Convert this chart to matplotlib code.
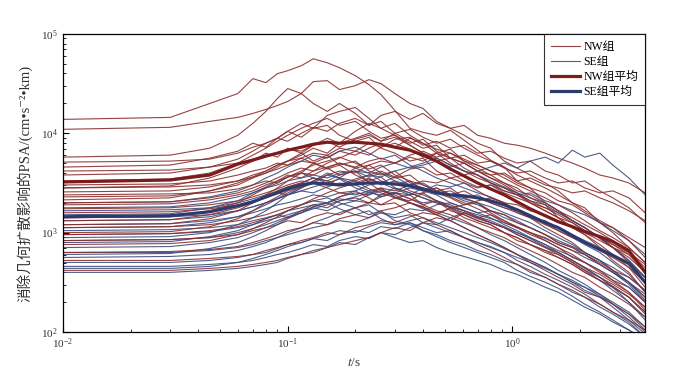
import matplotlib
matplotlib.use("Agg")
import matplotlib.pyplot as plt
import numpy as np

# periods (s) shared by every curve
T = [0.01, 0.03, 0.045, 0.06, 0.07, 0.08, 0.09, 0.10, 0.115, 0.13, 0.15, 0.17,
     0.20, 0.23, 0.26, 0.30, 0.35, 0.40, 0.46, 0.53, 0.61, 0.70, 0.80, 0.92,
     1.05, 1.2, 1.4, 1.6, 1.85, 2.1, 2.45, 2.8, 3.3, 3.9]

# log10 PSA, NW group
NW = [
    [4.14, 4.16, 4.30, 4.40, 4.55, 4.51, 4.60, 4.63, 4.68, 4.75, 4.71, 4.66, 4.58, 4.49, 4.39, 4.23, 4.05,
     4.01, 3.98, 4.03, 3.93, 3.83, 3.73, 3.66, 3.52, 3.45, 3.30, 3.22, 3.12, 3.05, 2.94, 2.85, 2.70, 2.55],
    [4.04, 4.06, 4.12, 4.16, 4.20, 4.24, 4.28, 4.32, 4.40, 4.52, 4.53, 4.44, 4.48, 4.54, 4.50, 4.40, 4.30,
     4.25, 4.12, 4.05, 3.98, 3.90, 3.85, 3.72, 3.65, 3.58, 3.50, 3.42, 3.30, 3.25, 3.10, 3.00, 2.85, 2.70],
    [3.76, 3.78, 3.85, 3.98, 4.10, 4.22, 4.35, 4.45, 4.40, 4.30, 4.22, 4.30, 4.20, 4.08, 4.12, 4.00, 3.92,
     3.85, 3.88, 3.75, 3.70, 3.62, 3.55, 3.48, 3.40, 3.32, 3.28, 3.15, 3.05, 2.98, 2.85, 2.72, 2.60, 2.40],
    [3.71, 3.72, 3.74, 3.80, 3.86, 3.90, 3.95, 3.92, 4.00, 4.06, 4.02, 4.10, 4.15, 4.08, 4.18, 4.22, 4.14,
     4.20, 4.10, 4.05, 4.08, 3.98, 3.95, 3.90, 3.88, 3.85, 3.80, 3.75, 3.70, 3.65, 3.58, 3.55, 3.50, 3.40],
    [3.66, 3.68, 3.75, 3.82, 3.90, 3.86, 3.95, 4.02, 3.96, 4.05, 4.08, 3.98, 3.92, 3.96, 3.85, 3.80, 3.72,
     3.75, 3.62, 3.55, 3.50, 3.42, 3.35, 3.30, 3.20, 3.15, 3.05, 2.98, 2.90, 2.80, 2.72, 2.62, 2.50, 2.35],
    [3.58, 3.60, 3.66, 3.74, 3.82, 3.90, 3.95, 4.02, 4.10, 4.05, 4.18, 4.22, 4.26, 4.15, 4.05, 4.10, 3.98,
     3.90, 3.80, 3.84, 3.72, 3.65, 3.58, 3.50, 3.45, 3.35, 3.30, 3.22, 3.12, 3.05, 2.95, 2.85, 2.78, 2.60],
    [3.48, 3.49, 3.52, 3.58, 3.62, 3.65, 3.70, 3.68, 3.75, 3.80, 3.78, 3.85, 3.82, 3.90, 3.86, 3.94, 3.96,
     3.88, 3.92, 3.85, 3.88, 3.80, 3.82, 3.75, 3.70, 3.72, 3.62, 3.58, 3.50, 3.52, 3.42, 3.35, 3.25, 3.10],
    [3.45, 3.47, 3.55, 3.65, 3.72, 3.80, 3.76, 3.85, 3.80, 3.72, 3.78, 3.68, 3.72, 3.62, 3.58, 3.62, 3.50,
     3.45, 3.40, 3.35, 3.28, 3.30, 3.20, 3.12, 3.05, 2.98, 2.92, 2.85, 2.75, 2.70, 2.60, 2.52, 2.45, 2.30],
    [3.41, 3.42, 3.46, 3.52, 3.58, 3.62, 3.68, 3.72, 3.78, 3.85, 3.80, 3.90, 3.95, 4.00, 3.92, 3.96, 3.88,
     3.80, 3.75, 3.68, 3.62, 3.55, 3.50, 3.45, 3.38, 3.32, 3.25, 3.20, 3.12, 3.05, 2.95, 2.88, 2.78, 2.62],
    [3.38, 3.39, 3.40, 3.44, 3.48, 3.52, 3.50, 3.56, 3.60, 3.58, 3.65, 3.70, 3.66, 3.72, 3.75, 3.70, 3.78,
     3.82, 3.76, 3.80, 3.72, 3.68, 3.62, 3.58, 3.50, 3.45, 3.40, 3.32, 3.28, 3.20, 3.10, 3.05, 2.95, 2.85],
    [3.33, 3.35, 3.42, 3.50, 3.56, 3.62, 3.68, 3.72, 3.75, 3.70, 3.64, 3.68, 3.58, 3.52, 3.56, 3.45, 3.40,
     3.35, 3.30, 3.25, 3.18, 3.12, 3.08, 3.00, 2.95, 2.88, 2.82, 2.75, 2.68, 2.60, 2.52, 2.45, 2.35, 2.20],
    [3.30, 3.31, 3.35, 3.40, 3.45, 3.50, 3.55, 3.60, 3.65, 3.62, 3.70, 3.75, 3.82, 3.78, 3.86, 3.90, 3.84,
     3.76, 3.80, 3.70, 3.62, 3.58, 3.50, 3.45, 3.40, 3.30, 3.25, 3.18, 3.10, 3.02, 2.95, 2.85, 2.72, 2.55],
    [3.28, 3.29, 3.33, 3.38, 3.42, 3.48, 3.52, 3.58, 3.55, 3.62, 3.66, 3.70, 3.65, 3.68, 3.60, 3.55, 3.58,
     3.48, 3.42, 3.45, 3.35, 3.30, 3.22, 3.18, 3.10, 3.05, 2.98, 2.90, 2.85, 2.78, 2.68, 2.60, 2.50, 2.35],
    [3.20, 3.21, 3.24, 3.28, 3.32, 3.35, 3.40, 3.38, 3.45, 3.50, 3.48, 3.55, 3.52, 3.58, 3.62, 3.56, 3.64,
     3.66, 3.58, 3.60, 3.52, 3.46, 3.48, 3.40, 3.35, 3.30, 3.22, 3.15, 3.10, 3.02, 2.95, 2.88, 2.80, 2.68],
    [3.12, 3.13, 3.18, 3.25, 3.30, 3.36, 3.42, 3.46, 3.50, 3.55, 3.52, 3.48, 3.52, 3.44, 3.40, 3.35, 3.38,
     3.28, 3.22, 3.18, 3.12, 3.05, 3.00, 2.95, 2.88, 2.82, 2.75, 2.68, 2.60, 2.55, 2.45, 2.38, 2.28, 2.15],
    [3.05, 3.06, 3.08, 3.12, 3.15, 3.18, 3.22, 3.25, 3.28, 3.32, 3.30, 3.36, 3.40, 3.38, 3.45, 3.42, 3.48,
     3.52, 3.50, 3.55, 3.58, 3.62, 3.58, 3.60, 3.52, 3.55, 3.48, 3.45, 3.40, 3.42, 3.35, 3.30, 3.22, 3.12],
    [2.98, 2.99, 3.02, 3.06, 3.10, 3.14, 3.18, 3.15, 3.22, 3.28, 3.25, 3.32, 3.35, 3.30, 3.38, 3.40, 3.34,
     3.28, 3.32, 3.22, 3.18, 3.12, 3.08, 3.00, 2.95, 2.88, 2.82, 2.78, 2.70, 2.62, 2.55, 2.48, 2.38, 2.25],
    [2.92, 2.93, 2.95, 2.98, 3.02, 3.05, 3.08, 3.12, 3.10, 3.16, 3.20, 3.18, 3.25, 3.30, 3.28, 3.35, 3.32,
     3.40, 3.45, 3.38, 3.42, 3.35, 3.30, 3.25, 3.20, 3.15, 3.08, 3.02, 2.95, 2.90, 2.82, 2.75, 2.65, 2.50],
    [2.80, 2.81, 2.83, 2.86, 2.90, 2.94, 2.98, 3.02, 3.05, 3.10, 3.08, 3.14, 3.18, 3.15, 3.22, 3.25, 3.30,
     3.26, 3.20, 3.24, 3.15, 3.10, 3.05, 3.00, 2.92, 2.88, 2.80, 2.75, 2.68, 2.60, 2.52, 2.45, 2.35, 2.20],
    [2.62, 2.62, 2.64, 2.66, 2.68, 2.70, 2.72, 2.75, 2.78, 2.80, 2.85, 2.88, 2.92, 2.95, 3.00, 3.05, 3.02,
     3.10, 3.15, 3.12, 3.20, 3.15, 3.18, 3.10, 3.05, 3.00, 2.95, 2.88, 2.82, 2.78, 2.70, 2.62, 2.55, 2.42],
    [3.36, 3.37, 3.42, 3.48, 3.55, 3.60, 3.66, 3.72, 3.80, 3.88, 3.95, 3.90, 4.02, 4.10, 4.05, 3.98, 3.90,
     3.94, 3.82, 3.75, 3.70, 3.62, 3.55, 3.50, 3.42, 3.38, 3.30, 3.22, 3.15, 3.08, 3.00, 2.92, 2.80, 2.65],
    [3.52, 3.54, 3.60, 3.70, 3.78, 3.85, 3.92, 3.98, 4.05, 4.10, 4.15, 4.08, 4.12, 4.02, 3.95, 3.98, 3.88,
     3.80, 3.72, 3.75, 3.65, 3.58, 3.50, 3.42, 3.38, 3.30, 3.22, 3.15, 3.05, 2.98, 2.88, 2.78, 2.65, 2.45],
    [3.24, 3.25, 3.28, 3.32, 3.36, 3.40, 3.44, 3.48, 3.52, 3.50, 3.58, 3.62, 3.60, 3.68, 3.72, 3.70, 3.76,
     3.72, 3.80, 3.75, 3.78, 3.70, 3.72, 3.65, 3.60, 3.62, 3.55, 3.50, 3.52, 3.45, 3.40, 3.42, 3.35, 3.20],
    [3.08, 3.09, 3.14, 3.22, 3.30, 3.38, 3.45, 3.52, 3.60, 3.70, 3.65, 3.58, 3.62, 3.50, 3.42, 3.38, 3.30,
     3.25, 3.18, 3.12, 3.05, 2.98, 2.92, 2.85, 2.78, 2.70, 2.62, 2.55, 2.48, 2.40, 2.35, 2.28, 2.18, 2.05],
    [3.45, 3.46, 3.48, 3.52, 3.56, 3.60, 3.64, 3.68, 3.72, 3.70, 3.76, 3.82, 3.78, 3.85, 3.90, 3.86, 3.95,
     3.90, 3.84, 3.80, 3.74, 3.68, 3.62, 3.55, 3.48, 3.42, 3.35, 3.28, 3.20, 3.12, 3.02, 2.95, 2.85, 2.70],
    [3.15, 3.16, 3.22, 3.30, 3.38, 3.45, 3.50, 3.56, 3.62, 3.68, 3.72, 3.76, 3.70, 3.64, 3.68, 3.58, 3.52,
     3.48, 3.42, 3.36, 3.30, 3.24, 3.18, 3.12, 3.06, 3.00, 2.92, 2.85, 2.78, 2.70, 2.62, 2.52, 2.40, 2.22],
    [2.88, 2.89, 2.92, 2.98, 3.04, 3.10, 3.16, 3.22, 3.28, 3.34, 3.40, 3.45, 3.50, 3.55, 3.48, 3.52, 3.42,
     3.38, 3.32, 3.28, 3.22, 3.16, 3.10, 3.05, 2.98, 2.92, 2.85, 2.80, 2.72, 2.65, 2.58, 2.50, 2.40, 2.25],
    [3.62, 3.63, 3.66, 3.70, 3.74, 3.78, 3.80, 3.84, 3.82, 3.88, 3.92, 3.86, 3.94, 3.98, 3.92, 4.00, 4.04,
     3.96, 3.90, 3.94, 3.85, 3.78, 3.72, 3.66, 3.58, 3.52, 3.45, 3.38, 3.30, 3.22, 3.12, 3.05, 2.92, 2.75],
    [2.72, 2.72, 2.74, 2.76, 2.78, 2.82, 2.85, 2.88, 2.92, 2.95, 3.00, 2.98, 3.05, 3.08, 3.12, 3.10, 3.16,
     3.20, 3.18, 3.25, 3.28, 3.32, 3.35, 3.30, 3.28, 3.22, 3.18, 3.12, 3.05, 3.00, 2.92, 2.85, 2.75, 2.60],
    [3.00, 3.01, 3.06, 3.14, 3.22, 3.30, 3.36, 3.42, 3.46, 3.50, 3.45, 3.40, 3.42, 3.35, 3.28, 3.30, 3.20,
     3.15, 3.08, 3.02, 2.95, 2.88, 2.82, 2.75, 2.68, 2.62, 2.55, 2.48, 2.42, 2.35, 2.28, 2.20, 2.12, 2.02],
]

# log10 PSA, SE group
SE = [
    [3.30, 3.31, 3.36, 3.42, 3.48, 3.55, 3.60, 3.66, 3.72, 3.78, 3.75, 3.82, 3.86, 3.80, 3.74, 3.78, 3.68,
     3.62, 3.55, 3.50, 3.45, 3.40, 3.36, 3.30, 3.22, 3.18, 3.10, 3.02, 2.95, 2.88, 2.80, 2.70, 2.58, 2.40],
    [3.22, 3.23, 3.25, 3.30, 3.34, 3.38, 3.42, 3.46, 3.50, 3.55, 3.52, 3.58, 3.62, 3.60, 3.66, 3.70, 3.65,
     3.68, 3.72, 3.66, 3.70, 3.62, 3.66, 3.70, 3.65, 3.72, 3.76, 3.70, 3.83, 3.76, 3.80, 3.68, 3.55, 3.38],
    [3.18, 3.19, 3.25, 3.32, 3.40, 3.46, 3.52, 3.56, 3.60, 3.55, 3.50, 3.54, 3.45, 3.40, 3.44, 3.35, 3.30,
     3.26, 3.20, 3.15, 3.10, 3.05, 2.98, 2.92, 2.85, 2.78, 2.70, 2.62, 2.55, 2.48, 2.38, 2.28, 2.15, 2.00],
    [3.12, 3.13, 3.16, 3.22, 3.26, 3.30, 3.34, 3.38, 3.42, 3.40, 3.46, 3.50, 3.48, 3.54, 3.50, 3.56, 3.48,
     3.42, 3.45, 3.38, 3.32, 3.28, 3.22, 3.18, 3.12, 3.05, 2.98, 2.90, 2.85, 2.78, 2.68, 2.60, 2.48, 2.30],
    [3.05, 3.06, 3.10, 3.16, 3.22, 3.28, 3.34, 3.40, 3.46, 3.52, 3.58, 3.55, 3.65, 3.60, 3.52, 3.48, 3.52,
     3.42, 3.38, 3.30, 3.25, 3.20, 3.15, 3.08, 3.02, 2.95, 2.88, 2.80, 2.72, 2.65, 2.55, 2.45, 2.30, 2.12],
    [2.98, 2.99, 3.01, 3.05, 3.08, 3.12, 3.15, 3.18, 3.22, 3.25, 3.22, 3.28, 3.32, 3.30, 3.36, 3.40, 3.38,
     3.45, 3.40, 3.42, 3.35, 3.38, 3.30, 3.25, 3.22, 3.15, 3.12, 3.05, 2.98, 2.92, 2.85, 2.78, 2.68, 2.55],
    [2.90, 2.91, 2.96, 3.02, 3.08, 3.14, 3.18, 3.22, 3.28, 3.32, 3.35, 3.30, 3.25, 3.28, 3.20, 3.15, 3.18,
     3.10, 3.05, 3.00, 2.95, 2.90, 2.85, 2.80, 2.72, 2.66, 2.58, 2.52, 2.45, 2.38, 2.28, 2.20, 2.10, 1.95],
    [2.85, 2.86, 2.90, 2.95, 3.00, 3.05, 3.10, 3.15, 3.20, 3.26, 3.30, 3.36, 3.42, 3.48, 3.50, 3.44, 3.38,
     3.40, 3.32, 3.25, 3.20, 3.15, 3.10, 3.05, 2.98, 2.92, 2.85, 2.78, 2.70, 2.62, 2.52, 2.42, 2.30, 2.15],
    [2.80, 2.80, 2.82, 2.85, 2.88, 2.92, 2.95, 2.98, 3.02, 3.05, 3.08, 3.12, 3.10, 3.15, 3.20, 3.18, 3.24,
     3.22, 3.28, 3.30, 3.25, 3.20, 3.22, 3.15, 3.10, 3.05, 2.98, 2.92, 2.86, 2.80, 2.72, 2.65, 2.55, 2.42],
    [2.75, 2.76, 2.78, 2.82, 2.86, 2.90, 2.95, 3.00, 3.05, 3.10, 3.15, 3.20, 3.25, 3.18, 3.22, 3.12, 3.08,
     3.02, 2.98, 2.92, 2.88, 2.82, 2.78, 2.72, 2.68, 2.60, 2.55, 2.48, 2.40, 2.35, 2.25, 2.18, 2.08, 1.95],
    [2.70, 2.70, 2.72, 2.75, 2.78, 2.80, 2.84, 2.88, 2.90, 2.94, 2.92, 2.98, 3.02, 3.00, 3.06, 3.04, 3.10,
     3.05, 3.00, 3.02, 2.95, 2.90, 2.86, 2.80, 2.75, 2.70, 2.64, 2.58, 2.50, 2.45, 2.38, 2.30, 2.20, 2.05],
    [2.66, 2.66, 2.68, 2.70, 2.72, 2.75, 2.78, 2.80, 2.84, 2.88, 2.86, 2.92, 2.96, 2.94, 3.00, 2.95, 2.90,
     2.92, 2.85, 2.80, 2.76, 2.72, 2.68, 2.62, 2.58, 2.52, 2.45, 2.40, 2.32, 2.25, 2.18, 2.10, 2.02, 1.92],
    [2.60, 2.60, 2.62, 2.64, 2.66, 2.68, 2.70, 2.74, 2.78, 2.82, 2.85, 2.90, 2.88, 2.95, 3.00, 2.98, 3.05,
     3.10, 3.08, 3.15, 3.20, 3.14, 3.10, 3.05, 3.00, 2.95, 2.88, 2.82, 2.76, 2.70, 2.62, 2.55, 2.45, 2.30],
    [3.15, 3.16, 3.18, 3.22, 3.26, 3.30, 3.34, 3.38, 3.42, 3.46, 3.50, 3.48, 3.54, 3.58, 3.56, 3.62, 3.66,
     3.70, 3.75, 3.68, 3.62, 3.58, 3.52, 3.46, 3.40, 3.35, 3.28, 3.20, 3.12, 3.05, 2.95, 2.85, 2.72, 2.55],
    [2.95, 2.96, 3.00, 3.08, 3.15, 3.22, 3.30, 3.38, 3.45, 3.52, 3.60, 3.55, 3.48, 3.42, 3.45, 3.36, 3.30,
     3.24, 3.18, 3.12, 3.05, 2.98, 2.92, 2.85, 2.78, 2.72, 2.65, 2.58, 2.50, 2.42, 2.35, 2.25, 2.12, 1.98],
    [3.08, 3.09, 3.12, 3.16, 3.20, 3.24, 3.28, 3.30, 3.34, 3.38, 3.36, 3.40, 3.38, 3.42, 3.36, 3.40, 3.34,
     3.30, 3.32, 3.26, 3.22, 3.18, 3.14, 3.10, 3.05, 3.00, 2.94, 2.88, 2.82, 2.75, 2.68, 2.60, 2.50, 2.38],
    [2.92, 2.93, 2.95, 3.00, 3.04, 3.08, 3.12, 3.16, 3.20, 3.24, 3.28, 3.32, 3.36, 3.40, 3.38, 3.45, 3.40,
     3.35, 3.30, 3.26, 3.22, 3.16, 3.12, 3.06, 3.00, 2.94, 2.86, 2.80, 2.72, 2.64, 2.55, 2.46, 2.35, 2.18],
    [2.78, 2.79, 2.84, 2.90, 2.96, 3.02, 3.08, 3.14, 3.20, 3.26, 3.30, 3.24, 3.18, 3.22, 3.14, 3.08, 3.10,
     3.02, 2.96, 2.90, 2.85, 2.80, 2.75, 2.70, 2.62, 2.56, 2.50, 2.44, 2.36, 2.28, 2.20, 2.12, 2.02, 1.90],
    [3.25, 3.26, 3.30, 3.36, 3.40, 3.45, 3.48, 3.52, 3.55, 3.58, 3.55, 3.60, 3.62, 3.56, 3.60, 3.52, 3.48,
     3.50, 3.42, 3.38, 3.34, 3.30, 3.26, 3.20, 3.15, 3.10, 3.02, 2.95, 2.88, 2.80, 2.72, 2.62, 2.50, 2.32],
    [2.64, 2.64, 2.66, 2.70, 2.74, 2.78, 2.82, 2.86, 2.90, 2.94, 2.98, 3.02, 3.00, 3.06, 3.10, 3.08, 3.12,
     3.15, 3.10, 3.05, 3.00, 2.95, 2.90, 2.84, 2.78, 2.72, 2.65, 2.58, 2.52, 2.45, 2.36, 2.28, 2.18, 2.02],
    [3.02, 3.03, 3.05, 3.08, 3.12, 3.15, 3.18, 3.22, 3.25, 3.28, 3.30, 3.34, 3.32, 3.38, 3.42, 3.40, 3.45,
     3.42, 3.48, 3.46, 3.50, 3.45, 3.48, 3.42, 3.38, 3.40, 3.32, 3.28, 3.22, 3.18, 3.10, 3.02, 2.92, 2.78],
]

# group means (log10 PSA)
NW_MEAN = [3.51, 3.53, 3.58, 3.69, 3.73, 3.77, 3.80, 3.83, 3.86, 3.89, 3.91, 3.90, 3.91, 3.90, 3.89,
           3.86, 3.83, 3.78, 3.72, 3.64, 3.57, 3.50, 3.44, 3.38, 3.31, 3.24, 3.17, 3.11, 3.06, 3.01,
           2.96, 2.91, 2.82, 2.60]
SE_MEAN = [3.16, 3.17, 3.21, 3.27, 3.31, 3.36, 3.40, 3.44, 3.48, 3.50, 3.49, 3.48, 3.49, 3.50, 3.50,
           3.49, 3.47, 3.44, 3.40, 3.38, 3.37, 3.35, 3.32, 3.28, 3.23, 3.17, 3.10, 3.05, 2.97, 2.90,
           2.83, 2.77, 2.69, 2.50]

C_NW, C_SE = "#8b2e2e", "#3c4c7e"
C_NW_M, C_SE_M = "#7a1c1c", "#2c3a6e"

plt.rcParams["font.family"] = ["Liberation Serif", "Noto Sans CJK SC", "DejaVu Serif"]
plt.rcParams["mathtext.fontset"] = "stix"

fig = plt.figure(figsize=(6.89, 3.73), dpi=100)
ax = fig.add_axes([0.0914, 0.110, 0.845, 0.799])

t = np.array(T)
for i in range(max(len(NW), len(SE))):
    if i < len(NW):
        ax.plot(t, 10 ** np.array(NW[i]), color=C_NW, lw=0.8, alpha=0.9,
                label="NW组" if i == 0 else None)
    if i < len(SE):
        ax.plot(t, 10 ** np.array(SE[i]), color=C_SE, lw=0.8, alpha=0.9,
                label="SE组" if i == 0 else None)
ax.plot(t, 10 ** np.array(NW_MEAN), color=C_NW_M, lw=2.3, label="NW组平均")
ax.plot(t, 10 ** np.array(SE_MEAN), color=C_SE_M, lw=2.3, label="SE组平均")

ax.set_xscale("log")
ax.set_yscale("log")
ax.set_xlim(0.01, 3.9)
ax.set_ylim(1e2, 1e5)
ax.tick_params(which="both", direction="in", top=False, right=False, labelsize=8,
               labelcolor="#333333")
ax.tick_params(which="major", length=4)
ax.tick_params(which="minor", length=2)
for s in ax.spines.values():
    s.set_linewidth(0.9)

ax.set_xlabel("$t$/s", fontsize=9.5, color="#333333")
# no mathtext here so the CJK fallback font is used
ax.set_ylabel("消除几何扩散影响的PSA/(cm•s⁻²•km)", fontsize=10.5, color="#333333",
              labelpad=6)

leg = ax.legend(loc="upper right", fontsize=8.5, frameon=True, fancybox=False,
                borderaxespad=0, handlelength=2.4, handletextpad=0.3,
                labelspacing=0.25, borderpad=0.6)
leg.get_frame().set_edgecolor("black")
leg.get_frame().set_linewidth(0.8)

fig.savefig("out.png", dpi=100)
